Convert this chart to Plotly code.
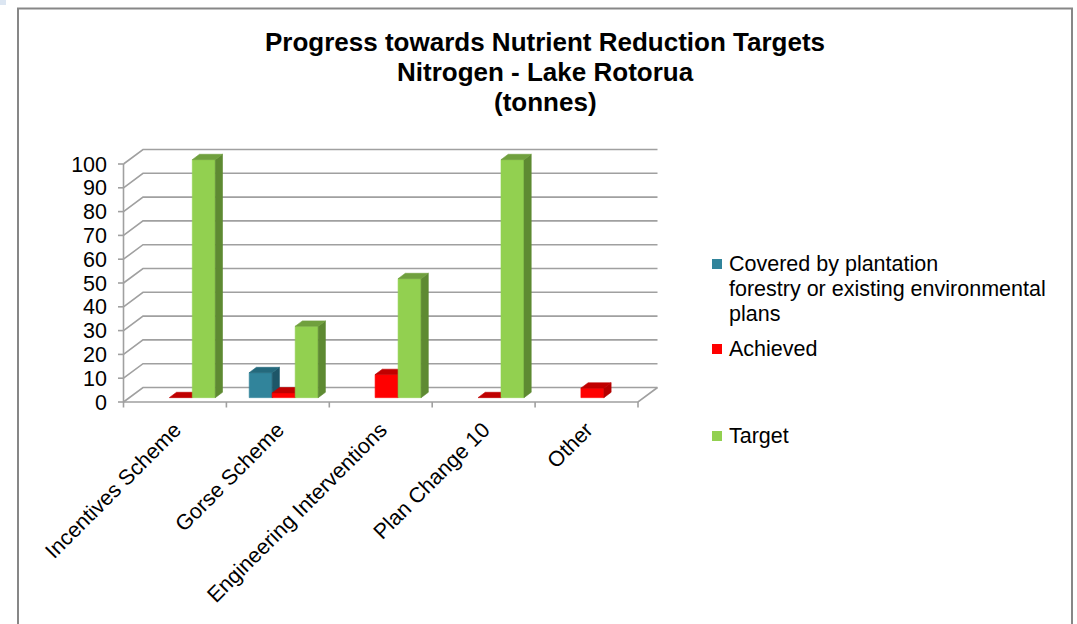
import plotly.graph_objects as go

# ---------------- data ----------------
categories = ["Incentives Scheme", "Gorse Scheme", "Engineering Interventions",
              "Plan Change 10", "Other"]
series_names = ["Covered by plantation forestry or existing environmental plans",
                "Achieved", "Target"]
covered = [None, 10.5, None, None, None]
achieved = [0, 2, 9.7, 0, 4]
target = [100, 30, 50, 100, None]
y_ticks = list(range(0, 101, 10))
title_lines = ["Progress towards Nutrient Reduction Targets",
               "Nitrogen - Lake Rotorua", "(tonnes)"]
legend_lines = [["Covered by plantation", "forestry or existing environmental", "plans"],
                ["Achieved"], ["Target"]]

series_values = [covered, achieved, target]

# ---------------- styles / geometry ----------------
front_colors = ["#31849B", "#FF0000", "#92D050"]
top_colors = ["#24697C", "#C00000", "#70A03E"]
side_colors = ["#1D5668", "#B40000", "#5E8A32"]
GRID = "#A0A0A0"
FONT = "Liberation Sans, Arial, sans-serif"

W, H = 1077, 624
PL, PR, PT, PB = 112, 665, 140, 412
X0_PX = 123.5          # pixel of the front left wall (category boundary -0.5)
CAT_PX = 102.9         # pixels per category
Y0_PX = 402.0          # pixel of value 0 on the front plane
UNIT_PX = 2.38         # pixels per unit of value
DEPTH_DX_PX = 19.5
DEPTH_DY_PX = 14.5
TICK_PX = 5.5

xmin = -0.5 - (X0_PX - PL) / CAT_PX
xmax = -0.5 + (PR - X0_PX) / CAT_PX
ymin = -(PB - Y0_PX) / UNIT_PX
ymax = (Y0_PX - PT) / UNIT_PX

DXu = DEPTH_DX_PX / CAT_PX
DYu = DEPTH_DY_PX / UNIT_PX
BAR_W = 23.0 / CAT_PX
D0, D1 = 0.30, 0.67
n = len(categories)
x_left, x_right = -0.5, n - 0.5


def px_x(p):
    return (p - PL) / (PR - PL)


def px_y(p):
    return (PB - p) / (PB - PT)


fig = go.Figure()


def add_line(xs, ys, color=GRID, width=1.6):
    fig.add_trace(go.Scatter(x=xs, y=ys, mode="lines", line=dict(color=color, width=width),
                             hoverinfo="skip", showlegend=False))


def add_face(xs, ys, color):
    fig.add_trace(go.Scatter(x=xs + [xs[0]], y=ys + [ys[0]], mode="lines", fill="toself",
                             fillcolor=color, line=dict(color=color, width=0.6),
                             hoverinfo="skip", showlegend=False))


# gridlines: left wall diagonal + back wall horizontal
gx, gy = [], []
for v in y_ticks:
    gx += [x_left, x_left + DXu, x_right + DXu, None]
    gy += [v, v + DYu, v + DYu, None]
add_line(gx, gy)
# front vertical axis
add_line([x_left, x_left], [0, y_ticks[-1]])
# floor front edge and right edge
add_line([x_left, x_right, x_right + DXu], [0, 0, DYu])
# y tick marks
tx, ty = [], []
for v in y_ticks:
    tx += [x_left - TICK_PX / CAT_PX, x_left, None]
    ty += [v, v, None]
add_line(tx, ty)
# category boundary tick marks
cx, cy = [], []
for b in range(n + 1):
    xb = b - 0.5
    cx += [xb, xb, None]
    cy += [0, -TICK_PX / UNIT_PX, None]
add_line(cx, cy)

# 3D bars
ddx = (D1 - D0) * DXu
ddy = (D1 - D0) * DYu
base = D0 * DYu
for i in range(n):
    for j, vals in enumerate(series_values):
        v = vals[i]
        if v is None:
            continue
        xl = i - 1.5 * BAR_W + j * BAR_W + D0 * DXu
        xr = xl + BAR_W
        top = base + v
        if v > 0:
            add_face([xl, xr, xr, xl], [base, base, top, top], front_colors[j])
            add_face([xr, xr + ddx, xr + ddx, xr], [base, base + ddy, top + ddy, top], side_colors[j])
        add_face([xl, xr, xr + ddx, xl + ddx], [top, top, top + ddy, top + ddy], top_colors[j])

# ---------------- annotations ----------------
annotations = []
for k, line in enumerate(title_lines):
    annotations.append(dict(text="<b>%s</b>" % line, x=px_x(545), y=px_y(42 + 30 * k),
                            xref="paper", yref="paper", xanchor="center", yanchor="middle",
                            showarrow=False, font=dict(family=FONT, size=26, color="black")))

legend_y = [[264, 289, 313.5], [349], [436]]
shapes = []
for j, lines in enumerate(legend_lines):
    cy0 = legend_y[j][0]
    shapes.append(dict(type="rect", xref="paper", yref="paper",
                       x0=px_x(712), x1=px_x(722), y0=px_y(cy0 - 5), y1=px_y(cy0 + 5),
                       fillcolor=front_colors[j], line=dict(width=0)))
    for k, txt in enumerate(lines):
        annotations.append(dict(text=txt, x=px_x(727), y=px_y(legend_y[j][k]),
                                xref="paper", yref="paper", xanchor="left", yanchor="middle",
                                showarrow=False, font=dict(family=FONT, size=21.5, color="black")))

# outer chart frame
shapes.append(dict(type="rect", xref="paper", yref="paper",
                   x0=px_x(18), x1=px_x(1072), y0=px_y(660), y1=px_y(8.5),
                   line=dict(color="#878787", width=2), fillcolor="rgba(0,0,0,0)", layer="below"))
# light corner patch
shapes.append(dict(type="rect", xref="paper", yref="paper",
                   x0=px_x(0), x1=px_x(6), y0=px_y(5), y1=px_y(0),
                   line=dict(width=0), fillcolor="#DCE6F2", layer="below"))

fig.update_layout(
    width=W, height=H, autosize=False,
    margin=dict(l=PL, r=W - PR, t=PT, b=H - PB, pad=0),
    paper_bgcolor="white", plot_bgcolor="rgba(0,0,0,0)",
    showlegend=False,
    xaxis=dict(range=[xmin, xmax], tickmode="array", tickvals=list(range(n)), ticktext=categories,
               tickangle=-45, showgrid=False, zeroline=False, showline=False, ticks="",
               ticklabelstandoff=0,
               tickfont=dict(family=FONT, size=21.5, color="black"), fixedrange=True),
    yaxis=dict(range=[ymin, ymax], tickmode="array", tickvals=y_ticks,
               ticktext=[str(v) for v in y_ticks], showgrid=False, zeroline=False,
               showline=False, ticks="", ticklabelstandoff=4,
               tickfont=dict(family=FONT, size=21.5, color="black"), fixedrange=True),
    annotations=annotations, shapes=shapes,
)

fig.write_html("out.html")
